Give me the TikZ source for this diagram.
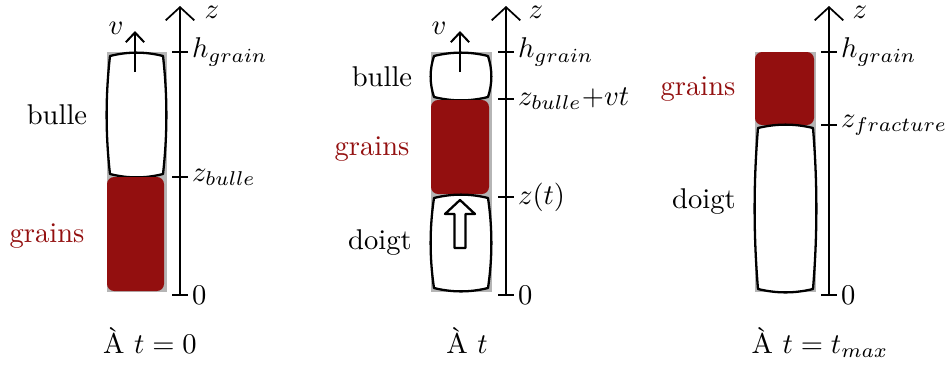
\documentclass[tikz,border=0pt]{standalone}
\usetikzlibrary{arrows.meta}
\definecolor{grainred}{HTML}{930F0F}
\definecolor{tubegray}{HTML}{B5B5B5}
\tikzset{
  tube/.style={fill=tubegray,draw=none},
  grainbox/.style={fill=grainred,draw=none,rounded corners=2.5},
  bubble/.style={fill=white,draw=black,line width=0.8pt,line join=round},
  axisline/.style={line width=0.75pt,-{Straight Barb[length=4.6pt,width=10pt,line width=0.6pt]}},
  tickline/.style={line width=0.75pt},
  ticklab/.style={anchor=west,inner sep=1.2pt},
  axislab/.style={inner sep=0pt},
  velarrow/.style={line width=0.75pt,-{Straight Barb[length=3.4pt,width=6.4pt,line width=0.7pt]}},
  redlab/.style={text=grainred},
}
% barrel: xl yt xr yb
\newcommand\barrelshape[4]{%
  \draw[bubble] ({#1+3},{#2+3})
    .. controls ({#1+3+(#3-#1-6)/3},{#2-1.5}) and ({#3-3-(#3-#1-6)/3},{#2-1.5}) .. ({#3-3},{#2+3})
    .. controls ({#3+1.5},{#2+3+(#4-#2-6)/3}) and ({#3+1.5},{#4-3-(#4-#2-6)/3}) .. ({#3-3},{#4-3})
    .. controls ({#3-3-(#3-#1-6)/3},{#4+1.5}) and ({#1+3+(#3-#1-6)/3},{#4+1.5}) .. ({#1+3},{#4-3})
    .. controls ({#1-1.5},{#4-3-(#4-#2-6)/3}) and ({#1-1.5},{#2+3+(#4-#2-6)/3}) .. cycle;}
\begin{document}
\begin{tikzpicture}[x=0.35pt,y=-0.35pt]
\useasboundingbox (0,0) rectangle (948,371);
%% ---------- Panel 1 ----------
\fill[tube] (107,52) rectangle (167,292);
\barrelshape{107}{53}{166}{177}
\fill[grainbox] (107,177) rectangle (164,291);
\coordinate (p1v0) at (135,72); \coordinate (p1v1) at (135,31);
\draw[velarrow] (p1v0) -- (p1v1);
\node (p1vl) at (116,28) {$v$};
\coordinate (p1a0) at (180,295); \coordinate (p1a1) at (180,6);
\draw[axisline] (p1a0) -- (p1a1);
\node[axislab] (p1z) at (212,12) {$z$};
\foreach \yy/\nm in {52/h,177/b,295/o}{\draw[tickline] (172,\yy) -- (188,\yy); \coordinate (p1t\nm) at (188,\yy);}
\node[ticklab] (p1lh) at (p1th) {$h_{grain}$};
\node[ticklab] (p1lb) at (p1tb) {$z_{bulle}$};
\node[ticklab] (p1lo) at (p1to) {$0$};
\node (p1bulle) at (57,115) {bulle};
\node[redlab] (p1grains) at (47,236) {grains};
\node[anchor=base] (p1cap) at (150,353) {À $t=0$};
%% ---------- Panel 2 ----------
\fill[tube] (431,52) rectangle (492,292);
\barrelshape{431}{53}{491}{100}
\fill[grainbox] (431,100) rectangle (489,194);
\barrelshape{431}{195}{491}{291}
\draw[bubble] (460,200) -- (475,214) -- (465.5,214) -- (465.5,248) -- (454.5,248) -- (454.5,214) -- (445,214) -- cycle;
\coordinate (p2v0) at (460,72); \coordinate (p2v1) at (460,31);
\draw[velarrow] (p2v0) -- (p2v1);
\node (p2vl) at (439,28) {$v$};
\coordinate (p2a0) at (506,295); \coordinate (p2a1) at (506,6);
\draw[axisline] (p2a0) -- (p2a1);
\node[axislab] (p2z) at (536,12) {$z$};
\foreach \yy/\nm in {52/h,99/b,197/t,295/o}{\draw[tickline] (498,\yy) -- (514,\yy); \coordinate (p2t\nm) at (514,\yy);}
\node[ticklab] (p2lh) at (p2th) {$h_{grain}$};
\node[ticklab] (p2lb) at (p2tb) {$z_{bulle}{+}vt$};
\node[ticklab] (p2lt) at (p2tt) {$z(t)$};
\node[ticklab] (p2lo) at (p2to) {$0$};
\node (p2bulle) at (382,77) {bulle};
\node[redlab] (p2grains) at (372,149) {grains};
\node (p2doigt) at (380,243) {doigt};
\node[anchor=base] (p2cap) at (467,353) {À $t$};
%% ---------- Panel 3 ----------
\fill[tube] (755,52) rectangle (816,292);
\fill[grainbox] (755,52) rectangle (814,125);
\barrelshape{755}{125}{816}{292}
\coordinate (p3a0) at (829,295); \coordinate (p3a1) at (829,6);
\draw[axisline] (p3a0) -- (p3a1);
\node[axislab] (p3z) at (860,12) {$z$};
\foreach \yy/\nm in {52/h,125/f,295/o}{\draw[tickline] (821,\yy) -- (837,\yy); \coordinate (p3t\nm) at (837,\yy);}
\node[ticklab] (p3lh) at (p3th) {$h_{grain}$};
\node[ticklab] (p3lf) at (p3tf) {$z_{fracture}$};
\node[ticklab] (p3lo) at (p3to) {$0$};
\node[redlab] (p3grains) at (698,89) {grains};
\node (p3doigt) at (704,202) {doigt};
\node[anchor=base] (p3cap) at (820,353) {À $t=t_{max}$};
\end{tikzpicture}
\end{document}
